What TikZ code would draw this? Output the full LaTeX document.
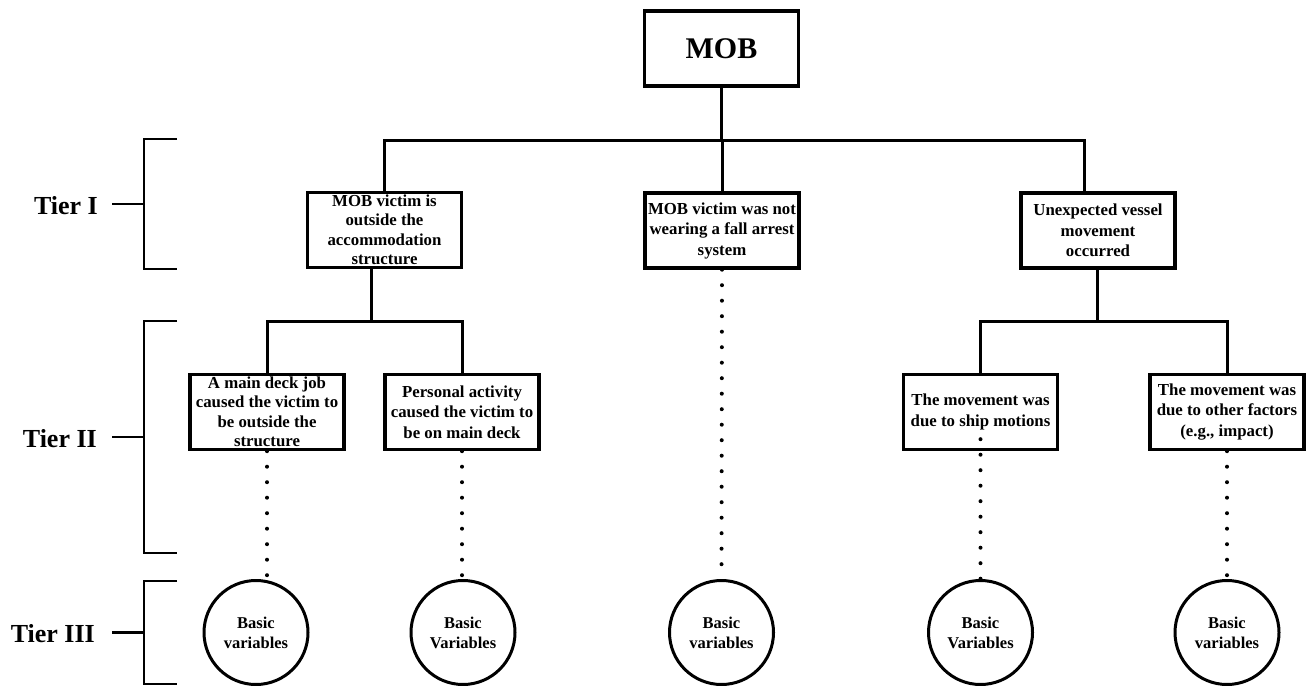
\documentclass[tikz,border=0pt]{standalone}
\usepackage{fontspec}
\setmainfont{Liberation Serif}
\begin{document}
\begin{tikzpicture}[x=1pt,y=-1pt,
  box/.style={draw,line width=3.4pt,minimum width=154pt,minimum height=75pt,
    inner sep=0pt,align=center,font=\fontsize{16.8}{20.5}\selectfont\bfseries},
  tightbox/.style={box,font=\fontsize{16.8}{19.5}\selectfont\bfseries},
  topbox/.style={box,font=\fontsize{30}{32}\selectfont\bfseries},
  leaf/.style={draw,circle,line width=3pt,minimum size=104pt,inner sep=0pt,
    align=center,font=\fontsize{16.5}{20}\selectfont\bfseries},
  link/.style={line width=3pt},
  dotline/.style={line width=4pt,line cap=round,dash pattern=on 0pt off 15.5pt},
  bracket/.style={line width=2.2pt},
  tierlabel/.style={anchor=east,inner sep=0pt,font=\fontsize{26}{28}\selectfont\bfseries}
]
\useasboundingbox (0,0) rectangle (1311,685);

% root
\node[topbox] (mob) at (721.5,48.5) {MOB};

% tier I
\node[tightbox] (t1) at (384.5,230) {MOB victim is\\outside the\\accommodation\\structure};
\node[box] (t2) at (722,230.5) {MOB victim was not\\wearing a fall arrest\\system};
\node[box] (t3) at (1098,230.5) {Unexpected vessel\\movement\\occurred};

% tier II
\node[tightbox] (a) at (267,412) {A main deck job\\caused the victim to\\be outside the\\structure};
\node[box] (b) at (462,412) {Personal activity\\caused the victim to\\be on main deck};
\node[box] (c) at (980.5,412) {The movement was\\due to ship motions};
\node[box] (d) at (1227,412) {The movement was\\due to other factors\\(e.g., impact)};

% tier III
\node[leaf] (v1) at (256,632.5) {Basic\\variables};
\node[leaf] (v2) at (463,632.5) {Basic\\Variables};
\node[leaf] (v3) at (721.5,632.5) {Basic\\variables};
\node[leaf] (v4) at (980.5,632.5) {Basic\\Variables};
\node[leaf] (v5) at (1227,632.5) {Basic\\variables};

% bus lines
\coordinate (busI) at (722,140);
\coordinate (busL) at (371,321);
\coordinate (busR) at (1097,321);

\draw[link] (mob.south) -- (mob.south |- busI);
\draw[link] (t1.north) -- (t1.north |- busI) -- ([xshift=-14pt]t3.north |- busI) -- ([xshift=-14pt]t3.north);
\draw[link] (t2.north) -- (t2.north |- busI);

\draw[link] ([xshift=-13.5pt]t1.south) -- (busL);
\draw[link] (a.north) -- (a.north |- busL) -- (b.north |- busL) -- (b.north);
\draw[link] (t3.south -| busR) -- (busR);
\draw[link] (c.north) -- (c.north |- busR) -- (d.north |- busR) -- (d.north);

% dotted links down to the basic variables
\draw[dotline] (t2.south) -- (v3.north);
\draw[dotline] (a.south) -- (a.south |- v1.north);
\draw[dotline] (b.south) -- (b.south |- v2.north);
\draw[dotline] ([yshift=12pt]c.south) -- (c.south |- v4.north);
\draw[dotline] (d.south) -- (d.south |- v5.north);

% tier brackets
\coordinate (k1) at (144,204);
\coordinate (k2) at (144,437);
\coordinate (k3) at (144,632.5);
\draw[bracket] (177,139) -- (144,139) -- (144,269) -- (177,269);
\draw[bracket] (177,321) -- (144,321) -- (144,553) -- (177,553);
\draw[bracket] (177,581) -- (144,581) -- (144,684) -- (177,684);

\node[tierlabel] (l1) at (98,206) {Tier I};
\node[tierlabel] (l2) at (97,439) {Tier II};
\node[tierlabel] (l3) at (95,634) {Tier III};

\draw[bracket] ([xshift=14pt]l1.east |- k1) -- (k1);
\draw[bracket] ([xshift=15pt]l2.east |- k2) -- (k2);
\draw[bracket] ([xshift=17pt]l3.east |- k3) -- (k3);
\end{tikzpicture}
\end{document}
